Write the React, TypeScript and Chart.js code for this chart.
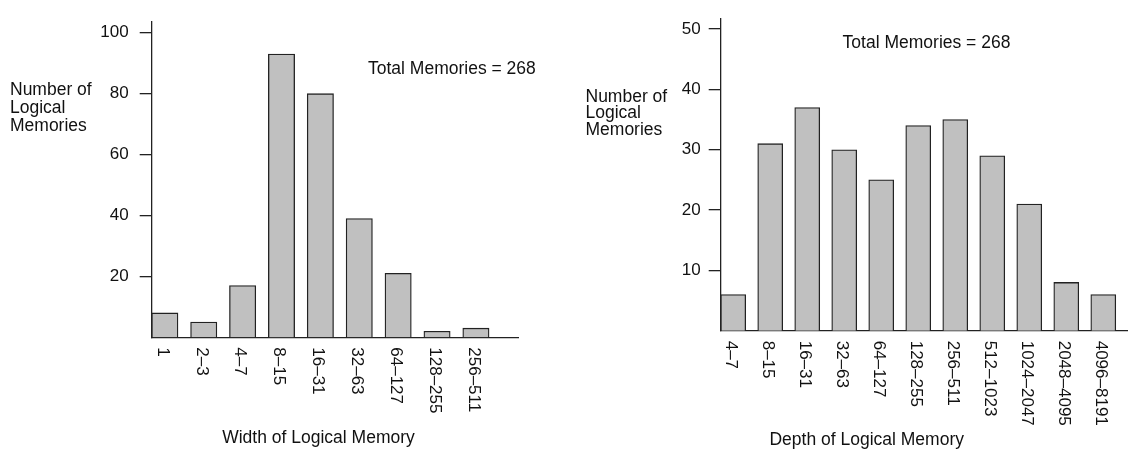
import React, { useEffect, useRef } from "react";
import { Chart, registerables } from "chart.js";

Chart.register(...registerables);

// Width histogram
const widthCategories = ["1", "2–3", "4–7", "8–15", "16–31", "32–63", "64–127", "128–255", "256–511"];
const widthCounts = [8, 5, 17, 93, 80, 39, 21, 2, 3];
const widthTicks = [20, 40, 60, 80, 100];

// Depth histogram
const depthCategories = [
  "4–7", "8–15", "16–31", "32–63", "64–127", "128–255",
  "256–511", "512–1023", "1024–2047", "2048–4095", "4096–8191",
];
const depthCounts = [6, 31, 37, 30, 25, 34, 35, 29, 21, 8, 6];
const depthTicks = [10, 20, 30, 40, 50];

const totalLabel = "Total Memories = 268";
const yTitleLines = ["Number of", "Logical", "Memories"];

const FONT = "'Liberation Sans', Arial, Helvetica, sans-serif";
const INK = "#111";
const CANVAS_H = 452;

type Panel = {
  categories: string[];
  counts: number[];
  yTicks: number[];
  xTitle: string;
  left: number;
  width: number;
  axisLeft: number;
  padRight: number;
  padTop: number;
  baseline: number;
  yMax: number;
  xMin: number;
  xMax: number;
  barThickness: number;
  tickPad: number;
  totalX: number;
  totalY: number;
  yTitleX: number;
  yTitleY: number[];
  xTitleX: number;
  xTitleY: number;
};

const panels: Panel[] = [
  {
    categories: widthCategories,
    counts: widthCounts,
    yTicks: widthTicks,
    xTitle: "Width of Logical Memory",
    left: 0,
    width: 566,
    axisLeft: 151.7,
    padRight: 47.7,
    padTop: 2,
    baseline: 337.3,
    yMax: 103.8,
    xMin: -0.338,
    xMax: 9.09,
    barThickness: 26.3,
    tickPad: 11,
    totalX: 368,
    totalY: 69,
    yTitleX: 10,
    yTitleY: [90, 108, 126],
    xTitleX: 318.5,
    xTitleY: 438,
  },
  {
    categories: depthCategories,
    counts: depthCounts,
    yTicks: depthTicks,
    xTitle: "Depth of Logical Memory",
    left: 566,
    width: 567,
    axisLeft: 154.7,
    padRight: 5.3,
    padTop: 12.7,
    baseline: 330.7,
    yMax: 51.8,
    xMin: -0.338,
    xMax: 10.66,
    barThickness: 25,
    tickPad: 8,
    totalX: 842.6 - 566,
    totalY: 43.3,
    yTitleX: 585.5 - 566,
    yTitleY: [96.7, 113.3, 130],
    xTitleX: 866.7 - 566,
    xTitleY: 440,
  },
];

function HistogramPanel({ p }: { p: Panel }) {
  const ref = useRef<HTMLCanvasElement | null>(null);

  useEffect(() => {
    const canvas = ref.current;
    if (!canvas) return;

    const textPlugin = {
      id: "histText",
      afterDraw(chart: any) {
        const ctx = chart.ctx as CanvasRenderingContext2D;
        const xs = chart.scales.x;
        const base = chart.chartArea.bottom;
        ctx.save();
        ctx.fillStyle = INK;

        // rotated category labels, reading downward from the axis
        ctx.font = `17px ${FONT}`;
        p.categories.forEach((label, i) => {
          const px = xs.getPixelForValue(i);
          ctx.save();
          ctx.translate(px - 2.5, base + 10);
          ctx.rotate(Math.PI / 2);
          ctx.textAlign = "left";
          ctx.textBaseline = "middle";
          ctx.fillText(label, 0, 0);
          ctx.restore();
        });

        ctx.font = `17.5px ${FONT}`;
        ctx.textBaseline = "middle";

        // y-axis title
        ctx.textAlign = "left";
        yTitleLines.forEach((line, k) => ctx.fillText(line, p.yTitleX, p.yTitleY[k]));

        // total annotation
        ctx.fillText(totalLabel, p.totalX, p.totalY);

        // x-axis title
        ctx.textAlign = "center";
        ctx.fillText(p.xTitle, p.xTitleX, p.xTitleY);
        ctx.restore();
      },
    };

    const chart = new Chart(canvas, {
      type: "bar",
      data: {
        datasets: [
          {
            data: p.counts.map((v, i) => ({ x: i, y: v })),
            backgroundColor: "#c0c0c0",
            borderColor: "#222",
            borderWidth: 1.3,
            barThickness: p.barThickness,
          },
        ],
      },
      options: {
        animation: false,
        responsive: false,
        devicePixelRatio: 1,
        layout: { padding: { left: 0, right: p.padRight, top: p.padTop, bottom: 0 } },
        plugins: {
          legend: { display: false },
          tooltip: { enabled: false },
        },
        scales: {
          x: {
            type: "linear",
            offset: false,
            min: p.xMin,
            max: p.xMax,
            ticks: { display: false },
            grid: { display: false, offset: false },
            border: { display: true, color: "#222", width: 1.3 },
            afterFit: (scale: any) => {
              scale.height = CANVAS_H - p.baseline;
            },
          },
          y: {
            type: "linear",
            min: 0,
            max: p.yMax,
            afterBuildTicks: (scale: any) => {
              scale.ticks = p.yTicks.map((v) => ({ value: v }));
            },
            afterFit: (scale: any) => {
              scale.width = p.axisLeft;
            },
            ticks: {
              color: INK,
              padding: p.tickPad,
              font: { family: FONT, size: 17 },
            },
            grid: {
              drawOnChartArea: false,
              drawTicks: true,
              tickLength: 12,
              color: "#222",
              lineWidth: 1.3,
            },
            border: { display: true, color: "#222", width: 1.3 },
          },
        },
      },
      plugins: [textPlugin],
    });

    return () => chart.destroy();
  }, [p]);

  return (
    <canvas
      ref={ref}
      width={p.width}
      height={CANVAS_H}
      style={{ position: "absolute", left: p.left, top: 0, width: p.width, height: CANVAS_H }}
    />
  );
}

export default function App() {
  return (
    <div style={{ position: "absolute", left: 0, top: 0, width: 1133, height: CANVAS_H, background: "#fff" }}>
      {panels.map((p, i) => (
        <HistogramPanel key={i} p={p} />
      ))}
    </div>
  );
}
